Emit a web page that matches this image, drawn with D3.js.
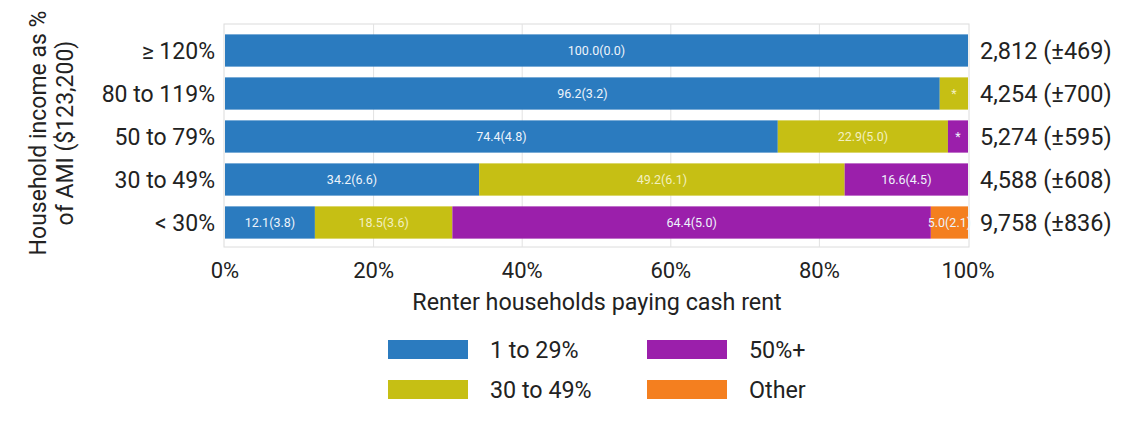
<!DOCTYPE html>
<html><head><meta charset="utf-8">
<script src="https://cdn.jsdelivr.net/npm/d3@7"></script>
<style>body{margin:0;background:#fff;} text{font-family:Roboto,"Noto Sans",sans-serif;}</style>
</head><body><svg id="c" width="1135" height="426"></svg>
<script>
const categories = ["≥ 120%", "80 to 119%", "50 to 79%", "30 to 49%", "< 30%"];
const seriesNames = ["1 to 29%", "30 to 49%", "50%+", "Other"];
const share1to29 = [100.0, 96.2, 74.4, 34.2, 12.1];
const share30to49 = [0, 3.8, 22.9, 49.2, 18.5];
const share50plus = [0, 0, 2.7, 16.6, 64.4];
const shareOther = [0, 0, 0, 0, 5.0];
const label1to29 = ["100.0(0.0)", "96.2(3.2)", "74.4(4.8)", "34.2(6.6)", "12.1(3.8)"];
const label30to49 = ["", "*", "22.9(5.0)", "49.2(6.1)", "18.5(3.6)"];
const label50plus = ["", "", "*", "16.6(4.5)", "64.4(5.0)"];
const labelOther = ["", "", "", "", "5.0(2.1)"];
const totals = ["2,812 (±469)", "4,254 (±700)", "5,274 (±595)", "4,588 (±608)", "9,758 (±836)"];
const xTicks = [0, 20, 40, 60, 80, 100];
const colors = ["#2b7bbf", "#c6bf14", "#9b1fab", "#f47f1f"];

const svg = d3.select("#c");
const x = d3.scaleLinear().domain([0, 100]).range([225, 968]);
const y = d3.scaleBand().domain(categories).range([29, 244]).paddingInner(0.25).paddingOuter(0.125);

// frame
svg.append("rect").attr("x", 224).attr("y", 24).attr("width", 745).attr("height", 223)
  .attr("fill", "#fff").attr("stroke", "#dcdcdc").attr("stroke-width", 1);
// grid
svg.append("g").selectAll("line").data(xTicks.slice(1, -1)).join("line")
  .attr("x1", d => x(d)).attr("x2", d => x(d)).attr("y1", 24).attr("y2", 247)
  .attr("stroke", "#e2e2e2").attr("stroke-width", 1);

const series = [share1to29, share30to49, share50plus, shareOther];
const labels = [label1to29, label30to49, label50plus, labelOther];
const rows = categories.map((c, i) => {
  const r = {cat: c}; seriesNames.forEach((s, k) => r[s] = series[k][i]); return r;
});
const stacked = d3.stack().keys(seriesNames)(rows);

stacked.forEach((layer, k) => {
  const g = svg.append("g");
  g.selectAll("rect").data(layer).join("rect")
    .attr("x", d => x(d[0])).attr("width", d => Math.max(0, x(d[1]) - x(d[0])))
    .attr("y", d => y(d.data.cat)).attr("height", y.bandwidth())
    .attr("fill", colors[k]);
  g.selectAll("text").data(layer).join("text")
    .attr("x", d => (x(d[0]) + x(d[1])) / 2)
    .attr("y", d => y(d.data.cat) + y.bandwidth() / 2 + 4.5)
    .attr("text-anchor", "middle").attr("font-size", 12.5).attr("fill", k === 1 ? "#f3f0c0" : "#eef4fb")
    .text((d, i) => labels[k][i]);
});

// category labels
svg.append("g").selectAll("text").data(categories).join("text")
  .attr("x", 215).attr("y", d => y(d) + y.bandwidth() / 2 + 8)
  .attr("text-anchor", "end").attr("font-size", 23).attr("fill", "#222").text(d => d);
// totals
svg.append("g").selectAll("text").data(totals).join("text")
  .attr("x", 980).attr("y", (d, i) => y(categories[i]) + y.bandwidth() / 2 + 8)
  .attr("font-size", 23.5).attr("fill", "#222").text(d => d);
// x ticks
svg.append("g").selectAll("text").data(xTicks).join("text")
  .attr("x", d => x(d)).attr("y", 278).attr("text-anchor", "middle")
  .attr("font-size", 22).attr("fill", "#222").text(d => d + "%");
// x title
svg.append("text").attr("x", 597).attr("y", 310).attr("text-anchor", "middle")
  .attr("font-size", 23.3).attr("fill", "#222").text("Renter households paying cash rent");
// y title
const yt = svg.append("text").attr("transform", "translate(0,133) rotate(-90)")
  .attr("text-anchor", "middle").attr("font-size", 23).attr("fill", "#222");
yt.append("tspan").attr("x", 0).attr("y", 46).text("Household income as %");
yt.append("tspan").attr("x", 0).attr("y", 73).text("of AMI ($123,200)");

// legend
const legPos = [[388, 340], [388, 380], [647, 340], [647, 380]];
const lg = svg.append("g").selectAll("g").data(seriesNames).join("g")
  .attr("transform", (d, i) => `translate(${legPos[i][0]},${legPos[i][1]})`);
lg.append("rect").attr("width", 80).attr("height", 19).attr("fill", (d, i) => colors[i]);
lg.append("text").attr("x", 102).attr("y", 18).attr("font-size", 23.3).attr("fill", "#222").text(d => d);
</script></body></html>
